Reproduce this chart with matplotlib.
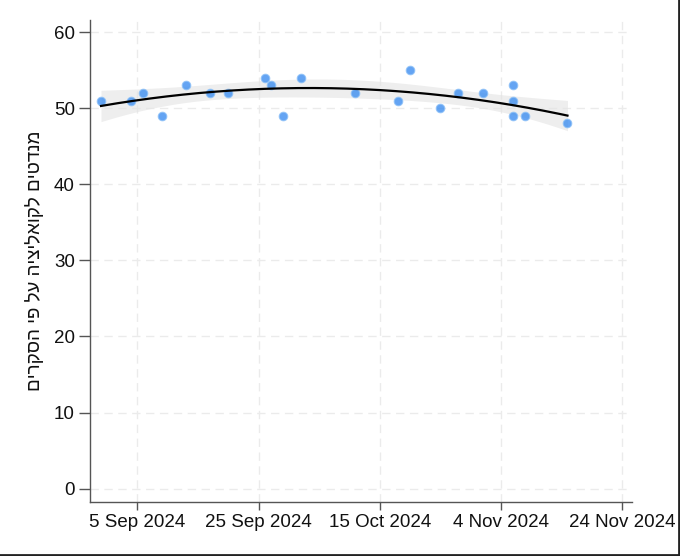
import numpy as np
import pandas as pd
import matplotlib
matplotlib.use("Agg")
import matplotlib.pyplot as plt
import matplotlib.dates as mdates
from matplotlib.lines import Line2D

# ---- data ----
poll_dates = ["2024-08-30", "2024-09-04", "2024-09-06", "2024-09-09", "2024-09-13",
              "2024-09-17", "2024-09-20", "2024-09-26", "2024-09-27", "2024-09-29",
              "2024-10-02", "2024-10-11", "2024-10-18", "2024-10-20", "2024-10-25",
              "2024-10-28", "2024-11-01", "2024-11-06", "2024-11-06", "2024-11-06",
              "2024-11-08", "2024-11-15"]
seats = [51, 51, 52, 49, 53,
         52, 52, 54, 53, 49,
         54, 52, 51, 55, 50,
         52, 52, 53, 51, 49,
         49, 48]
x_ticks = ["2024-09-05", "2024-09-25", "2024-10-15", "2024-11-04", "2024-11-24"]
x_tick_labels = ["5 Sep 2024", "25 Sep 2024", "15 Oct 2024", "4 Nov 2024", "24 Nov 2024"]
y_ticks = [0, 10, 20, 30, 40, 50, 60]
y_label = "מנדטים לקואליציה על פי הסקרים"

plt.rcParams['font.family'] = ['Liberation Sans', 'DejaVu Sans']

fig = plt.figure(figsize=(6.8, 5.56), dpi=100)
ax = fig.add_axes([0.1325, 0.098, 0.9294 - 0.1325, 0.964 - 0.098])

d = pd.to_datetime(poll_dates)
xn = mdates.date2num(d)
y = np.array(seats, dtype=float)

# quadratic fit with 95% confidence band
x0 = xn.mean()
xc = xn - x0
X = np.vstack([np.ones_like(xc), xc, xc ** 2]).T
beta, res, rank, sv = np.linalg.lstsq(X, y, rcond=None)
resid = y - X @ beta
n, p = X.shape
s2 = resid @ resid / (n - p)
cov = s2 * np.linalg.inv(X.T @ X)
xg = np.linspace(xn.min(), xn.max(), 200)
xgc = xg - x0
G = np.vstack([np.ones_like(xgc), xgc, xgc ** 2]).T
yg = G @ beta
se = np.sqrt(np.einsum('ij,jk,ik->i', G, cov, G))
tval = 2.093
ax.fill_between(xg, yg - tval * se, yg + tval * se, color='#e3e3e3', alpha=0.6,
                linewidth=0, zorder=2)
ax.plot(xg, yg, color='black', linewidth=1.6, zorder=4)

ax.scatter(xn, y, s=38, color='#3d8ef0', alpha=0.8, edgecolors='#8cc0f7',
           linewidths=0.8, zorder=3)

# axes
xt = mdates.date2num(pd.to_datetime(x_ticks))
ax.set_xticks(xt)
ax.set_xticklabels(x_tick_labels)
ax.set_yticks(y_ticks)
ax.set_xlim(xt[0] - 7.8, xt[-1] + 1.65)
ax.set_ylim(-1.7, 61.6)

ax.grid(True, color='#ebebeb', linestyle=(0, (6, 4)), linewidth=1.0, zorder=0)
ax.set_axisbelow(True)
for s in ['top', 'right']:
    ax.spines[s].set_visible(False)
for s in ['left', 'bottom']:
    ax.spines[s].set_color('#555555')
    ax.spines[s].set_linewidth(1.0)
ax.tick_params(axis='y', length=8)
ax.tick_params(axis='x', length=6)
ax.tick_params(axis='both', direction='out', width=1.0, color='#555555',
               labelsize=13.5, labelcolor='#111111', pad=3)
ax.set_ylabel(y_label[::-1], fontsize=13.5, color='#111111', labelpad=7)

# frame lines on right and bottom edge of the image
fig.add_artist(Line2D([0.9985, 0.9985], [0, 1], transform=fig.transFigure,
                      color='#222222', linewidth=2))
fig.add_artist(Line2D([0, 1], [0.0015, 0.0015], transform=fig.transFigure,
                      color='#222222', linewidth=2))

fig.savefig("out.png", dpi=100)
